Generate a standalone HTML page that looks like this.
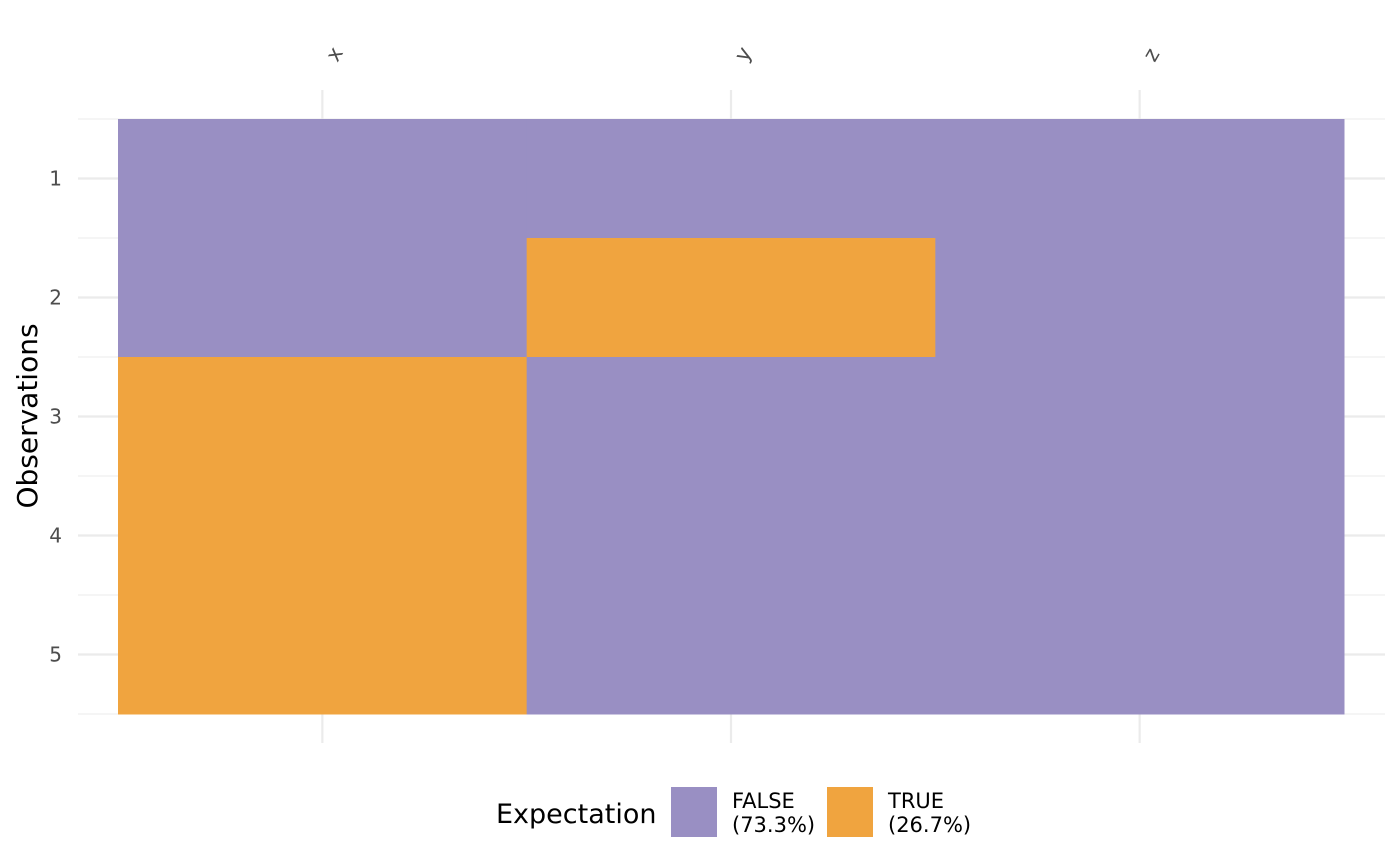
<!DOCTYPE html>
<html><head><meta charset="utf-8"><style>
body{margin:0;background:#fff;}
svg{display:block;font-family:"DejaVu Sans","Liberation Sans",sans-serif;}
</style></head><body>
<svg id="chart" width="1400" height="866"></svg>
<script>
const columns = ["x","y","z"];
const rows = [1,2,3,4,5];
const values = [
  [false,false,false],
  [false,true,false],
  [true,false,false],
  [true,false,false],
  [true,false,false]
];
const legendLabels = ["FALSE","TRUE"];
const legendPcts = ["(73.3%)","(26.7%)"];

const NS="http://www.w3.org/2000/svg";
const svg=document.getElementById('chart');
const L=118,R=1344,T=119,B=714;
const cw=(R-L)/columns.length, rh=(B-T)/rows.length;
const xPos=i=>L+cw*(i+0.5);
const yPos=j=>T+rh*(j+0.5);
const colors={false:"#998FC3",true:"#F0A43F"};
function mk(tag,attrs,parent){const e=document.createElementNS(NS,tag);for(const k in attrs)e.setAttribute(k,attrs[k]);(parent||svg).appendChild(e);return e;}

for(let j=0;j<=rows.length*2;j++){
  const y=T+rh*j/2;
  const g=mk('line',{x1:78,x2:1385,y1:y,y2:y,stroke:'#ebebeb','stroke-width':j%2?2.2:1});
  
  
}
columns.forEach((c,i)=>{
  const g=mk('line',{x1:xPos(i),x2:xPos(i),y1:90,y2:743,stroke:'#ebebeb','stroke-width':2.2});
  
  
});
rows.forEach((r,j)=>columns.forEach((c,i)=>{
  const v=values[j][i];
  const t=mk('rect',{x:L+cw*i,y:T+rh*j,width:cw+0.5,height:rh+0.5,fill:colors[v]});
  
  
}));
columns.forEach((c,i)=>{
  const x=xPos(i)+15,y=63;
  const t=mk('text',{x:x,y:y,transform:`rotate(-60 ${x} ${y})`,'font-size':21,fill:'#4d4d4d','text-anchor':'start'});
  t.textContent=c;
  
  
});
rows.forEach((r,j)=>{
  const t=mk('text',{x:62,y:yPos(j)+7,'font-size':20,fill:'#4d4d4d','text-anchor':'end'});
  t.textContent=r;
  
  
});
const yt=mk('text',{x:37,y:416,transform:'rotate(-90 37 416)','font-size':28,fill:'#000','text-anchor':'middle'});
yt.textContent='Observations';


const lt=mk('text',{x:496,y:823,'font-size':27,fill:'#000'});
lt.textContent='Expectation';


legendLabels.forEach((l,k)=>{
  const bx=671+k*156;
  const r=mk('rect',{x:bx,y:787,width:46,height:50,fill:colors[l==="TRUE"]});
  
  
  const t1=mk('text',{x:bx+61,y:808,'font-size':21,fill:'#000'});
  t1.textContent=l;
  
  
  const t2=mk('text',{x:bx+61,y:832,'font-size':21,fill:'#000'});
  t2.textContent=legendPcts[k];
  
  
});
</script>
</body></html>
